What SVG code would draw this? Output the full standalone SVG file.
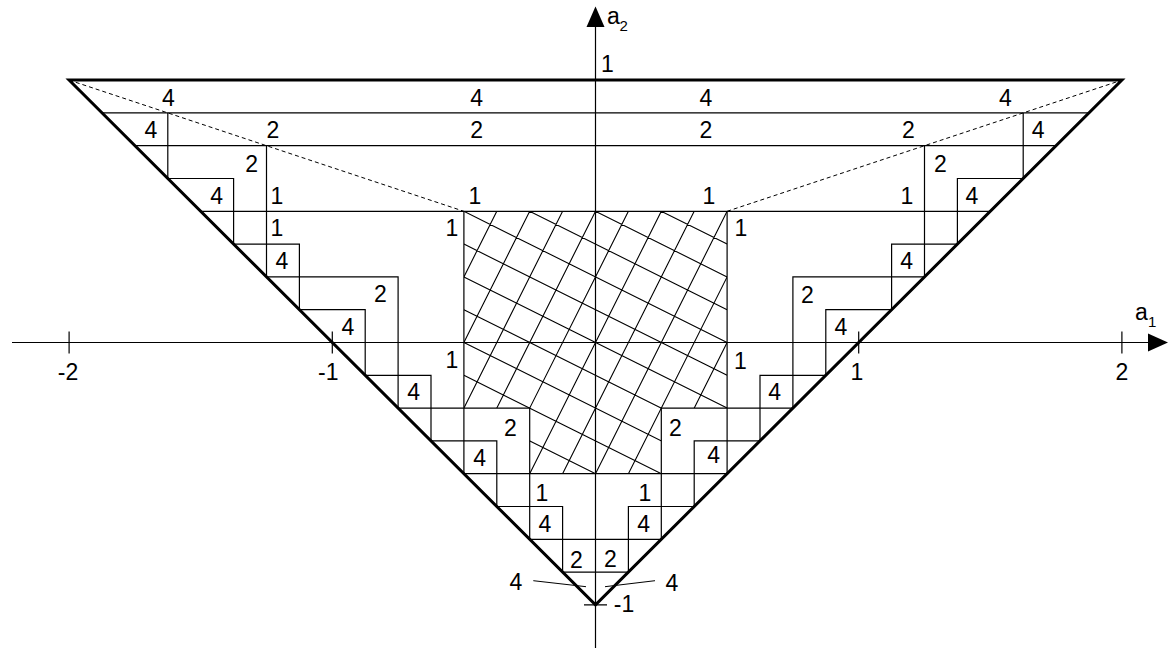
<svg xmlns="http://www.w3.org/2000/svg" width="1169" height="650" viewBox="0 0 1169 650">
<style>
.ln{fill:none;stroke:#000;stroke-width:1.2;vector-effect:non-scaling-stroke;stroke-linecap:square}
.hatch{fill:none;stroke:#000;stroke-width:1.1;vector-effect:non-scaling-stroke}
.thick{fill:none;stroke:#000;stroke-width:3;vector-effect:non-scaling-stroke;stroke-linejoin:miter}
.axis{fill:none;stroke:#000;stroke-width:1.2}
.dash{fill:none;stroke:#000;stroke-width:1;stroke-dasharray:4 3}
.lbl{font-family:"Liberation Sans",Arial,sans-serif;font-size:23px;text-anchor:middle;fill:#000}
.ax{font-family:"Liberation Sans",Arial,sans-serif;font-size:23px;fill:#000}
.sub{font-family:"Liberation Sans",Arial,sans-serif;font-size:15px;fill:#000}
</style>
<defs>
<clipPath id="hclip"><polygon points="-4,4 4,4 4,-2 2,-2 2,-4 -2,-4 -2,-2 -4,-2"/></clipPath>
</defs>
<rect width="1169" height="650" fill="#fff"/>

<g id="axes">
<line class="axis" x1="12" y1="342.5" x2="1152" y2="342.5"/>
<polygon points="1168,342.5 1148,333.5 1148,351.5" fill="#000"/>
<line class="axis" x1="595.5" y1="648" x2="595.5" y2="24"/>
<polygon points="595.5,6.5 586.5,27 604.5,27" fill="#000"/>
<path class="axis" d="M69.1 331.5V353.5M332.3 331.5V353.5M858.7 331.5V353.5M1121.9 331.5V353.5M584 604.9H607"/>
<text class="ax" x="607" y="24">a</text><text class="sub" x="619.5" y="31">2</text>
<text class="ax" x="1135" y="320">a</text><text class="sub" x="1148" y="327">1</text>
</g>

<g id="plot" transform="matrix(32.9 0 0 -32.8 595.5 342.5)">
<g id="hatch" clip-path="url(#hclip)">
<path class="hatch" d="M-4 -2L4 -6M-4 -1L4 -5M-4 0L4 -4M-4 1L4 -3M-4 2L4 -2M-4 3L4 -1M-4 4L4 0M-4 5L4 1M-4 6L4 2M-4 7L4 3
M-7 -4L-3 4M-6 -4L-2 4M-5 -4L-1 4M-4 -4L0 4M-3 -4L1 4M-2 -4L2 4M-1 -4L3 4M0 -4L4 4M1 -4L5 4M2 -4L6 4"/>
</g>
<g id="cells">
<path class="ln" d="M-15 7H15M-14 6H14M-12 4H12M-4 -4H4M-2 -6H2M-1 -7H1
M-13 5H-11M11 5H13M-11 3H-9M9 3H11M-10 2H-6M6 2H10M-9 1H-7M7 1H9
M-7 -1H-5M5 -1H7M-6 -2H-2M2 -2H6M-5 -3H-3M3 -3H5M-3 -5H-1M1 -5H3
M-13 7V5M13 7V5M-11 5V3M11 5V3M-10 6V2M10 6V2M-9 3V1M9 3V1
M-7 1V-1M7 1V-1M-6 2V-2M6 2V-2M-5 -1V-3M5 -1V-3M-4 4V-4M4 4V-4
M-3 -3V-5M3 -3V-5M-2 -2V-6M2 -2V-6M-1 -5V-7M1 -5V-7"/>
</g>
<g id="triangle">
<path class="thick" d="M-16 8L16 8L0 -8Z"/>
</g>
</g>

<g id="curves">
<line class="dash" x1="69.1" y1="80.1" x2="463.9" y2="211.3"/>
<line class="dash" x1="727.1" y1="211.3" x2="1121.9" y2="80.1"/>
<line class="axis" style="stroke-width:1" x1="533.3" y1="580.7" x2="586" y2="586.7"/>
<line class="axis" style="stroke-width:1" x1="605" y1="586.7" x2="655" y2="580.7"/>
</g>

<g id="labels">
<text class="lbl" x="607.5" y="72">1</text>
<text class="lbl" x="168.3" y="106">4</text>
<text class="lbl" x="476.7" y="106">4</text>
<text class="lbl" x="705.8" y="106">4</text>
<text class="lbl" x="1005.5" y="106">4</text>
<text class="lbl" x="151" y="138">4</text>
<text class="lbl" x="273" y="138">2</text>
<text class="lbl" x="476.7" y="138">2</text>
<text class="lbl" x="706" y="138">2</text>
<text class="lbl" x="908.3" y="138">2</text>
<text class="lbl" x="1038.2" y="138">4</text>
<text class="lbl" x="251.7" y="171.5">2</text>
<text class="lbl" x="940.3" y="171.5">2</text>
<text class="lbl" x="216.7" y="203.5">4</text>
<text class="lbl" x="277" y="203.5">1</text>
<text class="lbl" x="475" y="203.5">1</text>
<text class="lbl" x="709" y="203.5">1</text>
<text class="lbl" x="907" y="203.5">1</text>
<text class="lbl" x="972" y="203.5">4</text>
<text class="lbl" x="277" y="235.5">1</text>
<text class="lbl" x="452" y="236">1</text>
<text class="lbl" x="741" y="236">1</text>
<text class="lbl" x="282" y="268.5">4</text>
<text class="lbl" x="906.7" y="268.5">4</text>
<text class="lbl" x="380.3" y="302">2</text>
<text class="lbl" x="807.5" y="302.5">2</text>
<text class="lbl" x="347.8" y="335">4</text>
<text class="lbl" x="841" y="335">4</text>
<text class="lbl" x="452" y="368">1</text>
<text class="lbl" x="740.3" y="368.5">1</text>
<text class="lbl" x="68" y="380">-2</text>
<text class="lbl" x="328.3" y="380">-1</text>
<text class="lbl" x="857" y="380">1</text>
<text class="lbl" x="1122" y="380">2</text>
<text class="lbl" x="413.7" y="400">4</text>
<text class="lbl" x="774.7" y="400">4</text>
<text class="lbl" x="510.3" y="436">2</text>
<text class="lbl" x="675.3" y="436">2</text>
<text class="lbl" x="479.7" y="466">4</text>
<text class="lbl" x="713.7" y="463">4</text>
<text class="lbl" x="542" y="500.5">1</text>
<text class="lbl" x="645" y="500.5">1</text>
<text class="lbl" x="545" y="532">4</text>
<text class="lbl" x="643.7" y="532">4</text>
<text class="lbl" x="576.3" y="567.5">2</text>
<text class="lbl" x="610.3" y="566.5">2</text>
<text class="lbl" x="516" y="589.5">4</text>
<text class="lbl" x="672" y="591">4</text>
<text class="lbl" x="624" y="612">-1</text>
</g>
</svg>
